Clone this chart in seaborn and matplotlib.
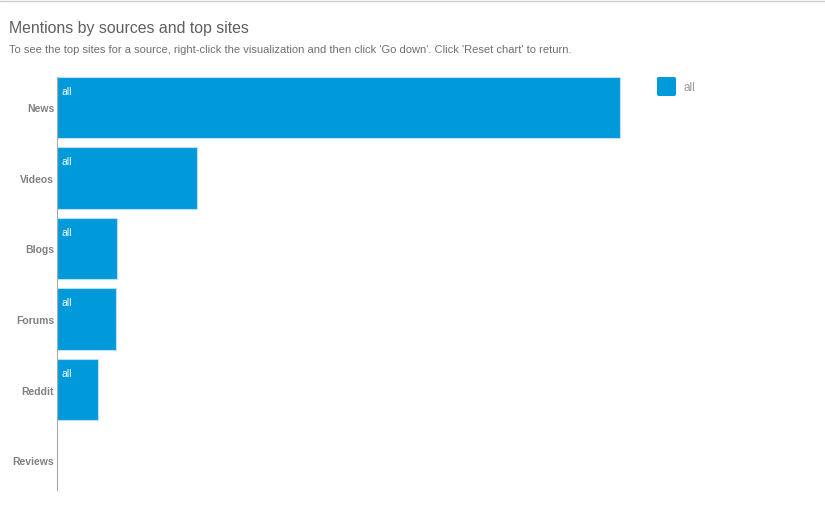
import matplotlib
matplotlib.use("Agg")
import matplotlib.pyplot as plt
import seaborn as sns
import pandas as pd
from matplotlib.patches import FancyBboxPatch
from matplotlib.lines import Line2D

sources = ["News", "Videos", "Blogs", "Forums", "Reddit", "Reviews"]
mentions = [563, 140, 60, 59, 41, 0]
series_name = "all"

df = pd.DataFrame({"source": sources, "mentions": mentions})

sns.set_theme(style="white")
plt.rcParams['font.family'] = ['Liberation Sans', 'DejaVu Sans']

BLUE = "#0099da"
GRAY = "#808080"

fig = plt.figure(figsize=(8.25, 5.1), dpi=100)
W, H = 825, 510
ax = fig.add_axes([57 / W, 1 - 493 / H, 583 / W, 420 / H])

sns.barplot(data=df, x="mentions", y="source", color=BLUE, width=0.87,
            saturation=1, ax=ax, edgecolor="#b9dff2", linewidth=0.8)

ax.set_xlim(0, 583)
ax.set_xlabel("")
ax.set_ylabel("")
ax.set_xticks([])
ax.tick_params(axis="y", length=0, pad=2, labelsize=7.5, labelcolor=GRAY)
for lbl in ax.get_yticklabels():
    lbl.set_fontweight("bold")
for s in ["top", "right", "bottom"]:
    ax.spines[s].set_visible(False)
ax.spines["left"].set_color("#aaaaaa")
ax.spines["left"].set_linewidth(0.8)
ax.set_ylim(5.45, -0.5)
ax.spines["left"].set_bounds(-0.435, 5.42)

# labels inside bars
for i, (src, v) in enumerate(zip(sources, mentions)):
    if v > 0:
        ax.annotate(series_name, xy=(0, i - 0.435), xytext=(3.6, -6.5),
                    textcoords="offset points", ha="left", va="top",
                    color="white", fontsize=7.5)

# title & subtitle
fig.text(9 / W, 1 - 28 / H, "Mentions by sources and top sites", fontsize=11.4,
         color="#5f5f5f", ha="left", va="center")
fig.text(9 / W, 1 - 50 / H,
         "To see the top sites for a source, right-click the visualization and then click 'Go down'. Click 'Reset chart' to return.",
         fontsize=8, color="#6f6f6f", ha="left", va="center")

# top rule
fig.add_artist(Line2D([0, 1], [1 - 2 / H, 1 - 2 / H], color="#cccccc", linewidth=1))

# legend
fig.add_artist(FancyBboxPatch((657 / W, 1 - 97 / H), 19 / W, 19 / H,
                              boxstyle="round,pad=0,rounding_size=0.003",
                              facecolor=BLUE, edgecolor="none",
                              transform=fig.transFigure))
fig.text(684 / W, 1 - 88 / H, series_name, fontsize=8.5, color="#999999",
         ha="left", va="center")

fig.savefig("out.png", dpi=100, facecolor="white")
